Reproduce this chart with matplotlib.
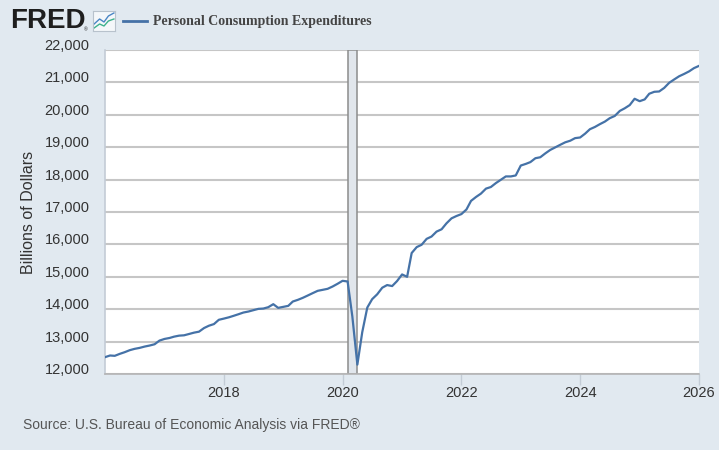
import numpy as np
import pandas as pd
import matplotlib
matplotlib.use("Agg")
import matplotlib.pyplot as plt
import matplotlib.transforms as mtransforms

# monthly PCE, billions of dollars
dates = pd.date_range("2016-01-01", "2026-01-01", freq="MS")
pce = [
    # 2016
    12520, 12571, 12561, 12622, 12673, 12735, 12776, 12806, 12847, 12878, 12918, 13031,
    # 2017
    13082, 13112, 13153, 13184, 13194, 13235, 13276, 13306, 13418, 13490, 13541, 13673,
    # 2018
    13710, 13750, 13794, 13845, 13897, 13928, 13969, 14010, 14020, 14062, 14155, 14041,
    # 2019
    14072, 14103, 14237, 14289, 14350, 14423, 14495, 14567, 14598, 14629, 14701, 14784,
    # 2020
    14876, 14856, 13780, 12290, 13290, 14050, 14310, 14460, 14663, 14745, 14714, 14868,
    # 2021
    15073, 15000, 15734, 15917, 15988, 16171, 16242, 16395, 16467, 16650, 16804, 16875,
    # 2022
    16936, 17079, 17343, 17465, 17568, 17722, 17771, 17893, 17997, 18098, 18098, 18128,
    # 2023
    18434, 18485, 18540, 18660, 18690, 18810, 18915, 18995, 19075, 19150, 19200, 19280,
    # 2024
    19300, 19420, 19555, 19625, 19710, 19790, 19895, 19965, 20120, 20200, 20300, 20495,
    # 2025
    20420, 20475, 20650, 20710, 20720, 20830, 20985, 21090, 21190, 21260, 21340, 21440,
    # 2026
    21510,
]
recession_start = "2020-02-01"
recession_end = "2020-04-01"
y_ticks = [12000, 13000, 14000, 15000, 16000, 17000, 18000, 19000, 20000, 21000, 22000]
x_tick_years = [2018, 2020, 2022, 2024, 2026]

series_name = "Personal Consumption Expenditures"
y_label = "Billions of Dollars"
source = "Source: U.S. Bureau of Economic Analysis via FRED®"

bg = "#e1e9f0"
line_color = "#4572a7"
plt.rcParams["font.family"] = ["Liberation Sans", "DejaVu Sans"]

fig = plt.figure(figsize=(7.19, 4.5), dpi=100, facecolor=bg)
ax = fig.add_axes([105 / 719, 1 - 374 / 450, 594 / 719, 324 / 450])
ax.set_facecolor("white")

# recession band
ax.axvspan(pd.Timestamp(recession_start), pd.Timestamp(recession_end),
           facecolor="#e1e6ec", edgecolor="#8c8c8c", linewidth=1.1, zorder=1)

ax.plot(dates, pce, color=line_color, linewidth=1.6, zorder=3)

ax.set_xlim(pd.Timestamp("2016-01-01"), pd.Timestamp("2026-01-01"))
ax.set_ylim(12000, 22000)
ax.set_yticks(y_ticks)
ax.set_yticklabels([f"{v:,}" for v in y_ticks])
ax.set_xticks([pd.Timestamp(f"{y}-01-01") for y in x_tick_years])
ax.set_xticklabels([str(y) for y in x_tick_years])

ax.grid(axis="y", color="#c6c6c6", linewidth=1.5, zorder=0)
ax.set_axisbelow(True)
for s in ["top", "right"]:
    ax.spines[s].set_visible(False)
ax.spines["left"].set_color("#c3ccd6")
ax.spines["left"].set_linewidth(1.2)
ax.spines["bottom"].set_color("#b4b4b4")
ax.spines["bottom"].set_linewidth(1.2)

ax.tick_params(axis="y", length=0, pad=11, labelsize=10.5, labelcolor="#333333")
ax.tick_params(axis="x", length=8, width=1, color="#c3ccd6", pad=0.5,
               labelsize=10.5, labelcolor="#333333")

# FRED puts the value labels a little above their gridlines
shift = mtransforms.ScaledTranslation(0, 4 / 72, fig.dpi_scale_trans)
for lbl in ax.get_yticklabels():
    lbl.set_transform(lbl.get_transform() + shift)

ax.set_ylabel(y_label, fontsize=11.5, color="#333333", labelpad=6)

# header: logo, icon, legend
fig.text(10 / 719, 1 - 21 / 450, "FRED", fontsize=20, fontweight="bold",
         color="#1e1e1e", va="center", ha="left")
fig.text(84 / 719, 1 - 30 / 450, "®", fontsize=3.5, color="#1e1e1e",
         va="center", ha="left")
icon = fig.add_axes([93 / 719, 1 - 31 / 450, 22 / 719, 20 / 450])
icon.set_facecolor("#f4f7fa")
icon.plot([0.05, 0.3, 0.5, 0.7, 0.95], [0.35, 0.6, 0.45, 0.75, 0.9],
          color="#4a86c5", linewidth=1)
icon.plot([0.05, 0.3, 0.5, 0.7, 0.95], [0.15, 0.35, 0.25, 0.5, 0.6],
          color="#3db28c", linewidth=1)
icon.set_xlim(0, 1)
icon.set_ylim(0, 1)
icon.set_xticks([])
icon.set_yticks([])
for s in icon.spines.values():
    s.set_color("#b8c2cc")
    s.set_linewidth(0.8)

fig.lines.append(plt.Line2D([123 / 719, 147 / 719], [1 - 21 / 450, 1 - 21 / 450],
                            transform=fig.transFigure, color=line_color, linewidth=2))
fig.text(153 / 719, 1 - 21 / 450, series_name, fontsize=10, fontweight="bold",
         family="Liberation Serif", color="#444444", va="center", ha="left")

fig.text(23 / 719, 1 - 425 / 450, source, fontsize=10, color="#555555",
         va="center", ha="left")

fig.savefig("out.png", dpi=100, facecolor=bg)
